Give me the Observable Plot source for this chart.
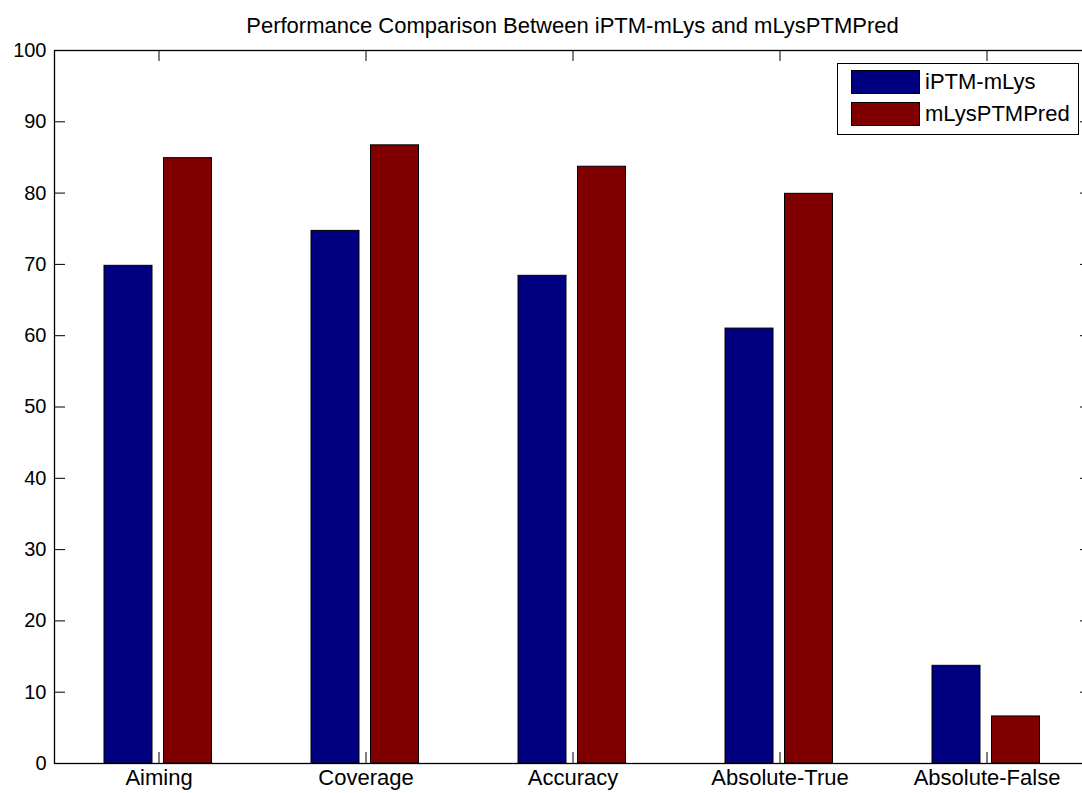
<!DOCTYPE html>
<html>
<head>
<meta charset="utf-8">
<script src="https://cdn.jsdelivr.net/npm/d3@7"></script>
<script src="https://cdn.jsdelivr.net/npm/@observablehq/plot@0.6"></script>
<style>
  html, body { margin: 0; padding: 0; background: #fff; overflow: hidden; }
  #wrap { position: relative; width: 1082px; height: 793px; overflow: hidden; background: #fff;
          font-family: "Liberation Sans", Arial, sans-serif; color: #000; }
  #title { position: absolute; top: 15px; left: 0; width: 1145px; text-align: center;
           font-size: 22px; line-height: 1; white-space: nowrap; }
  #chart { position: absolute; top: 40px; left: 0; width: 1100px; }
  #chart svg { max-width: none !important; }
  #legend { position: absolute; left: 837px; top: 63px; width: 242px; height: 72px;
            border: 1px solid #000; background: #fff; box-sizing: border-box; }
  .sw { position: absolute; left: 13px; width: 69px; height: 24px; border: 1px solid #000; box-sizing: border-box; }
  .lb { position: absolute; left: 87px; font-size: 22px; line-height: 24px; white-space: nowrap; }
</style>
</head>
<body>
<div id="wrap">
  <div id="title"></div>
  <div id="chart"></div>
  <div id="legend"></div>
</div>
<script>
const title = "Performance Comparison Between iPTM-mLys and mLysPTMPred";
const categories = ["Aiming", "Coverage", "Accuracy", "Absolute-True", "Absolute-False"];
const seriesNames = ["iPTM-mLys", "mLysPTMPred"];
const iptmValues = [69.8, 74.7, 68.4, 61.0, 13.7];
const mlysValues = [84.9, 86.7, 83.7, 79.9, 6.6];
const yTicks = [0, 10, 20, 30, 40, 50, 60, 70, 80, 90, 100];
const colors = ["#000080", "#800000"];

document.getElementById("title").textContent = title;

const iptmRows = categories.map((c, i) => ({category: c, value: iptmValues[i]}));
const mlysRows = categories.map((c, i) => ({category: c, value: mlysValues[i]}));

const W = 1100, H = 753, mL = 54, mR = 9, mT = 10, mB = 30;
const plotW = W - mL - mR, plotH = H - mT - mB;
const tickLen = 11;

const chart = Plot.plot({
  width: W,
  height: H,
  marginLeft: mL,
  marginRight: mR,
  marginTop: mT,
  marginBottom: mB,
  style: {fontFamily: '"Liberation Sans", Arial, sans-serif', fontSize: "20px", color: "#000", background: "#fff", overflow: "visible", maxWidth: "none"},
  x: {domain: categories, padding: 0, label: null},
  y: {domain: [0, 100], label: null},
  marks: [
    Plot.barY(iptmRows, {x: "category", y: "value", fill: colors[0], stroke: "#000", strokeWidth: 1,
      dx: -30.5, insetLeft: 79.5, insetRight: 79.5}),
    Plot.barY(mlysRows, {x: "category", y: "value", fill: colors[1], stroke: "#000", strokeWidth: 1,
      dx: 29, insetLeft: 79.5, insetRight: 79.5}),
    Plot.tickY(yTicks, {y: d => d, stroke: "#000", strokeWidth: 1, insetRight: plotW - tickLen}),
    Plot.tickY(yTicks, {y: d => d, stroke: "#000", strokeWidth: 1, insetLeft: plotW - tickLen}),
    Plot.tickX(categories, {x: d => d, stroke: "#000", strokeWidth: 1, insetTop: plotH - tickLen}),
    Plot.tickX(categories, {x: d => d, stroke: "#000", strokeWidth: 1, insetBottom: plotH - tickLen}),
    Plot.frame({stroke: "#000", strokeWidth: 1.3}),
    Plot.axisY(yTicks, {tickSize: 0, tickPadding: 8, fontSize: 20, label: null}),
    Plot.axisX({tickSize: 0, tickPadding: 6, fontSize: 22, label: null})
  ]
});
chart.style.maxWidth = "none";
document.getElementById("chart").appendChild(chart);

const legend = document.getElementById("legend");
seriesNames.forEach((name, i) => {
  const sw = document.createElement("div");
  sw.className = "sw";
  sw.style.top = (6 + i * 32) + "px";
  sw.style.background = colors[i];
  legend.appendChild(sw);
  const lb = document.createElement("div");
  lb.className = "lb";
  lb.style.top = (6 + i * 32) + "px";
  lb.textContent = name;
  legend.appendChild(lb);
});
</script>
</body>
</html>
